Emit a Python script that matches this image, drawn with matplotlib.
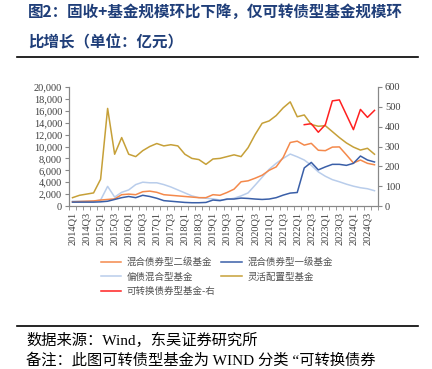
import matplotlib.pyplot as plt
from matplotlib.lines import Line2D

plt.rcParams['font.family'] = ['Liberation Serif', 'Noto Sans CJK SC', 'DejaVu Sans']

quarters = [f'{y}Q{q}' for y in range(2014, 2025) for q in range(1, 5)]

# 混合债券型二级基金 (left axis)
mix2 = [700, 750, 800, 850, 1000, 1100, 1200, 1900, 2000, 1900, 2400, 2500,
        2300, 1900, 1800, 1700, 1600, 1500, 1400, 1400, 1900, 1800, 2270, 2830,
        4070, 4230, 4670, 5170, 6000, 6570, 8170, 10670, 10900, 10230, 10530, 9370,
        9300, 9900, 9930, 8600, 7230, 7730, 7170, 6930]
# 混合债券型一级基金 (left axis)
mix1 = [650, 650, 650, 650, 700, 800, 1100, 1400, 1600, 1400, 1800, 1600,
        1300, 900, 800, 700, 600, 550, 550, 600, 1000, 900, 1170, 1170,
        1330, 1270, 1170, 1100, 1170, 1400, 1830, 2170, 2270, 6400, 7330, 6070,
        6570, 7000, 7000, 6830, 7170, 8400, 7730, 7400]
# 偏债混合型基金 (left axis)
biased = [800, 800, 800, 800, 1000, 3300, 1500, 2300, 2700, 3600, 4000, 3900,
          3900, 3600, 3200, 2700, 2200, 1700, 1400, 1300, 1200, 1000, 1100, 1300,
          1700, 2200, 3500, 4830, 6170, 7170, 8000, 8730, 8270, 7730, 6830, 5730,
          5000, 4430, 4070, 3670, 3330, 3070, 2900, 2570]
# 灵活配置型基金 (left axis)
flex = [1400, 1800, 2000, 2200, 4500, 16400, 8700, 11500, 8700, 8300, 9300, 10000,
        10500, 10100, 10300, 10100, 8700, 8000, 7800, 7000, 7900, 8000, 8300, 8600,
        8300, 9800, 12000, 13900, 14300, 15200, 16500, 17500, 15000, 15300, 13700, 13400,
        13500, 12500, 11500, 10600, 9900, 9400, 9700, 8700]
# 可转换债券型基金 (right axis), from 2022Q2
conv_start = 33
conv = [410, 415, 372, 410, 530, 535, 460, 385, 487, 447, 482]

c_mix2 = '#F4894B'
c_mix1 = '#3A5FA8'
c_biased = '#B9CDEB'
c_flex = '#C6A038'
c_conv = '#FF2020'

fig = plt.figure(figsize=(4.32, 3.69), dpi=100)
ax = fig.add_axes([69 / 432, 1 - 206 / 369, 309 / 432, 119 / 369])
x = list(range(len(quarters)))
ax.plot(x, flex, color=c_flex, lw=1.1)
ax.plot(x, biased, color=c_biased, lw=1.1)
ax.plot(x, mix2, color=c_mix2, lw=1.1)
ax.plot(x, mix1, color=c_mix1, lw=1.1)
ax.set_ylim(0, 20000)
ax.set_yticks(range(0, 20001, 2000))
ax.set_yticklabels([f'{v:,}' for v in range(0, 20001, 2000)])
ax.set_xlim(-0.5, len(quarters) - 0.5)
ax.set_xticks([i - 0.5 for i in x] + [len(x) - 0.5], minor=True)
ax.set_xticks(x[::2])
ax.set_xticklabels(quarters[::2], rotation=90)
ax.tick_params(axis='x', which='major', length=0, labelsize=7.5, pad=4, labelcolor='#404040')
ax.tick_params(axis='x', which='minor', length=3, color='#888888')
ax.tick_params(axis='y', labelsize=7.5, length=3, color='#888888', pad=2, labelcolor='#404040')

ax2 = ax.twinx()
ax2.plot(list(range(conv_start, conv_start + len(conv))), conv, color=c_conv, lw=1.1)
ax2.set_ylim(0, 600)
ax2.set_yticks(range(0, 601, 100))
ax2.tick_params(axis='y', labelsize=7.5, length=3, color='#888888', pad=2, labelcolor='#404040')

for a in (ax, ax2):
    a.spines['top'].set_visible(False)
    for s in ('left', 'right', 'bottom'):
        a.spines[s].set_color('#888888')
        a.spines[s].set_linewidth(0.8)

handles = [Line2D([], [], color=c_mix2, lw=1.1), Line2D([], [], color=c_mix1, lw=1.1),
           Line2D([], [], color=c_biased, lw=1.1), Line2D([], [], color=c_flex, lw=1.1),
           Line2D([], [], color=c_conv, lw=1.1)]
labels = ['混合债券型二级基金', '混合债券型一级基金', '偏债混合型基金', '灵活配置型基金',
          '可转换债券型基金-右']
order = [0, 2, 4, 1, 3]
leg = fig.legend([handles[i] for i in order], [labels[i] for i in order], ncol=2,
                 loc='upper left', bbox_to_anchor=(92 / 432, 1 - 249 / 369), frameon=False,
                 prop={'family': 'Noto Sans CJK SC', 'size': 6.8}, handlelength=2.2,
                 columnspacing=0.6, labelspacing=0.55, handletextpad=0.6)
for t in leg.get_texts():
    t.set_color('#505050')

navy = '#1F3E79'
fig.text(28 / 432, 1 - 12 / 369, '图2：固收+基金规模环比下降，仅可转债型基金规模环',
         family='Noto Sans CJK SC', weight='bold', size=11.2, color=navy, va='center')
fig.text(28 / 432, 1 - 42 / 369, '比增长（单位：亿元）',
         family='Noto Sans CJK SC', weight='bold', size=11.2, color=navy, va='center')
fig.add_artist(Line2D([17 / 432, 418 / 432], [1 - 57 / 369] * 2, color='black', lw=1.2))
fig.add_artist(Line2D([17 / 432, 418 / 432], [1 - 326 / 369] * 2, color='black', lw=1.2))
fig.text(26 / 432, 1 - 340 / 369, '数据来源：Wind，东吴证券研究所',
         family=['Liberation Serif', 'Noto Sans CJK SC'], size=11, color='black', va='center')
fig.text(26 / 432, 1 - 360 / 369, '备注：此图可转债型基金为 WIND 分类 “可转换债券',
         family=['Liberation Serif', 'Noto Sans CJK SC'], size=11, color='black', va='center')

fig.savefig('out.png', dpi=100)
